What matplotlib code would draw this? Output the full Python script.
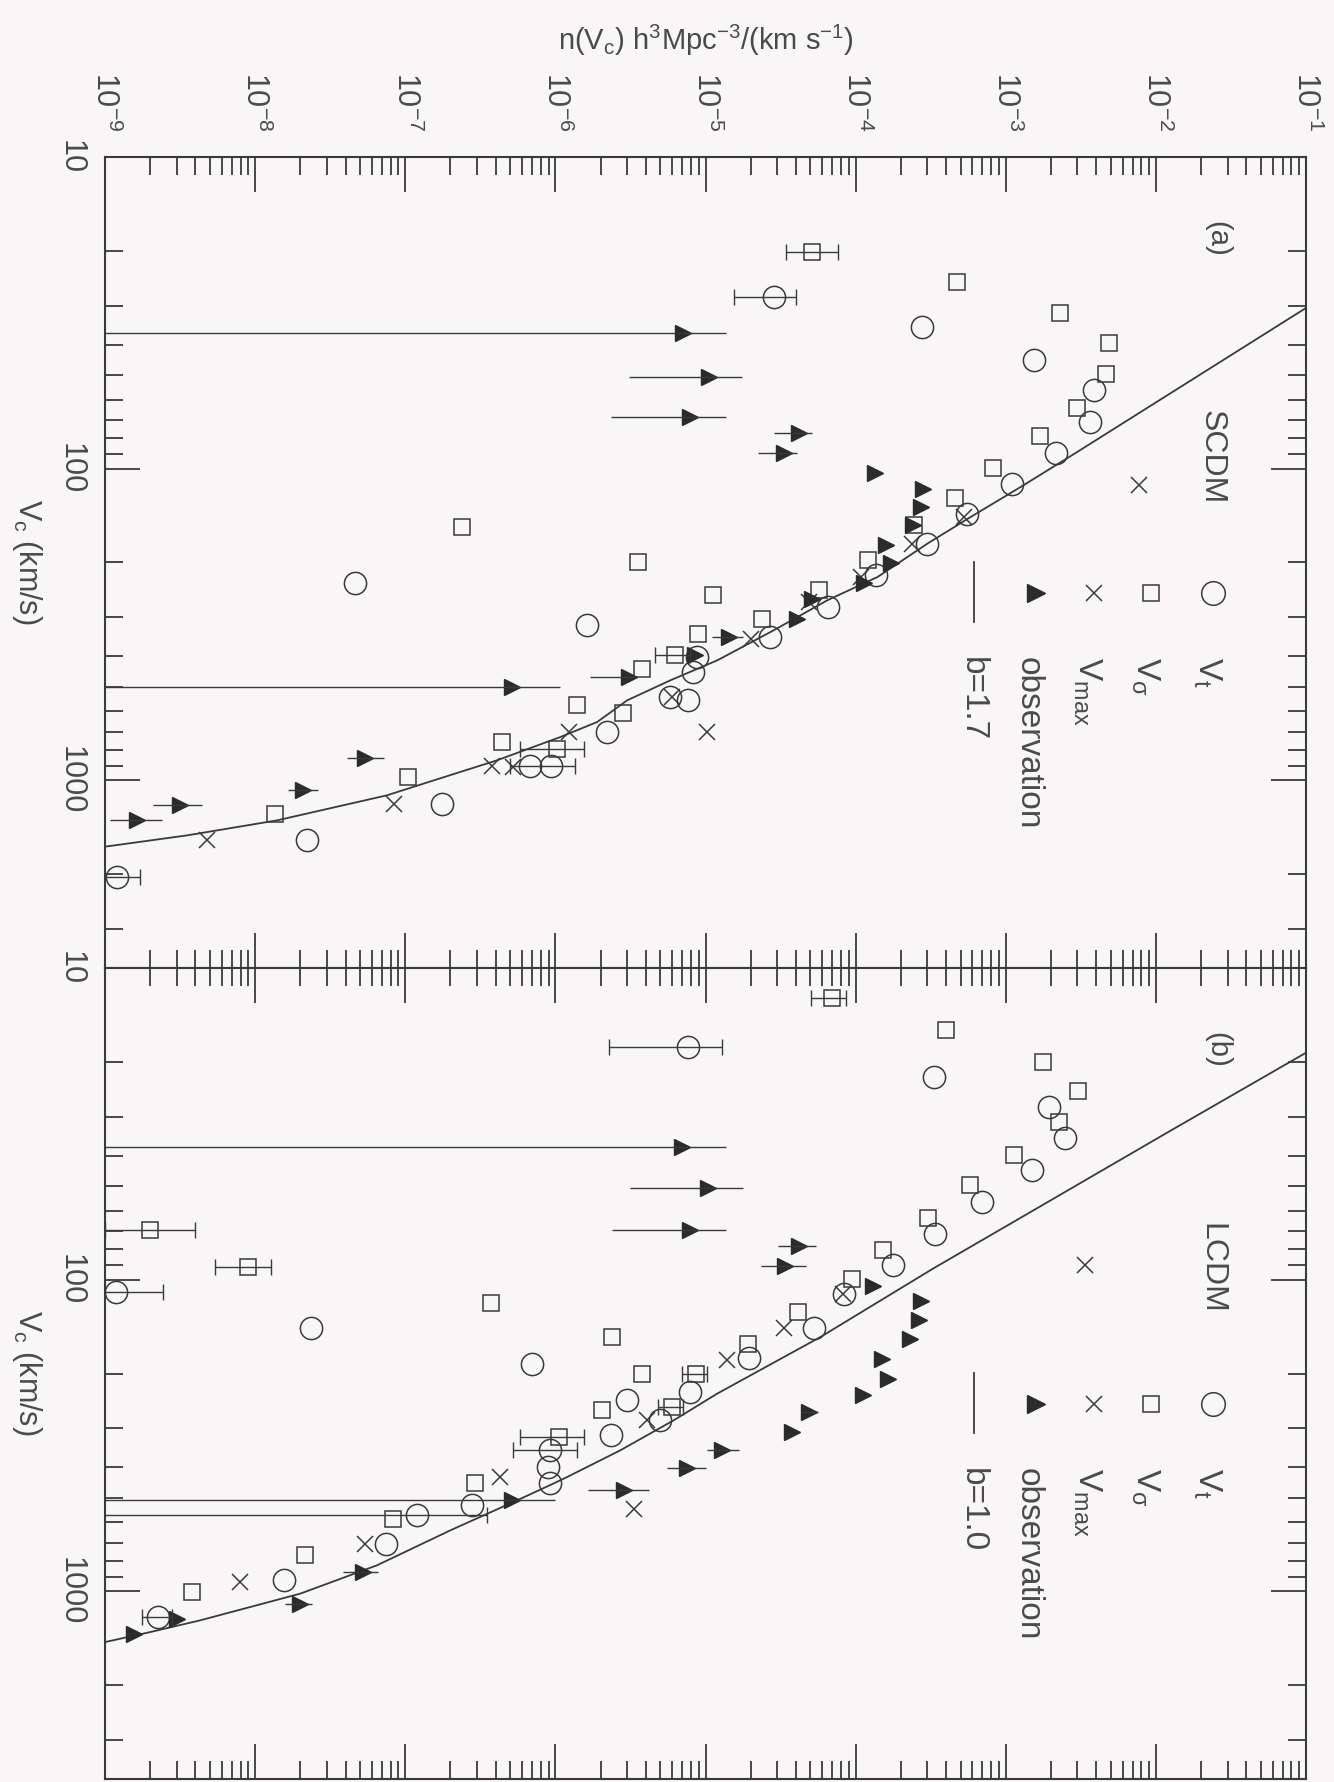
import numpy as np
import matplotlib.pyplot as plt
from matplotlib.ticker import LogLocator, NullFormatter, FuncFormatter, FixedLocator

plt.rcParams['font.family'] = ['Liberation Sans', 'DejaVu Sans']
plt.rcParams['mathtext.fontset'] = 'custom'
plt.rcParams['mathtext.rm'] = 'Liberation Sans'
plt.rcParams['mathtext.it'] = 'Liberation Sans:italic'
plt.rcParams['mathtext.bf'] = 'Liberation Sans:bold'

# ---- panel (a) SCDM : V_c in km/s, n in h^3 Mpc^-3 / (km/s) ----
a_vt_V = [28.1, 35.1, 44.8, 56.0, 70.8, 88.8, 111.6, 139.3, 173.9, 219.8, 277.8, 346.7,
          402, 450, 553.6, 540, 318, 233, 700, 901, 898, 1188, 1558, 2045]
a_vt_n = [2.88e-5, 2.75e-4, 1.54e-3, 3.86e-3, 3.63e-3, 2.16e-3, 1.10e-3, 5.5e-4, 3.0e-4,
          1.36e-4, 6.5e-5, 2.7e-5, 8.8e-6, 8.3e-6, 7.7e-6, 5.8e-6, 1.63e-6, 4.6e-8,
          2.2e-6, 6.8e-7, 9.3e-7, 1.76e-7, 2.2e-8, 1.2e-9]
a_vt_err_V = [28.1, 898, 2045]
a_vt_err_n = [2.88e-5, 9.3e-7, 1.2e-9]
a_vt_err_lo = [1.56e-5, 5.0e-7, 8e-10]
a_vt_err_hi = [3.98e-5, 1.36e-6, 1.71e-9]

a_vs_V = [20.2, 25.1, 31.7, 39.5, 49.7, 63.7, 78.8, 99.5, 123.9, 151.8, 196.7, 245.5,
          302.7, 338, 397, 437.8, 574.4, 199.2, 254.7, 153.7, 753.8, 975.9, 1279, 795.4, 609.5]
a_vs_n = [5.09e-5, 4.71e-4, 2.29e-3, 4.86e-3, 4.62e-3, 2.96e-3, 1.68e-3, 8.19e-4, 4.57e-4,
          2.44e-4, 1.20e-4, 5.66e-5, 2.39e-5, 8.98e-6, 6.31e-6, 3.79e-6, 1.40e-6, 3.57e-6,
          1.13e-5, 2.40e-7, 4.42e-7, 1.05e-7, 1.36e-8, 1.02e-6, 2.84e-6]
a_vs_err_V = [20.2, 397, 795.4]
a_vs_err_n = [5.09e-5, 6.31e-6, 1.02e-6]
a_vs_err_lo = [3.44e-5, 4.64e-6, 5.85e-7]
a_vs_err_hi = [7.59e-5, 7.94e-6, 1.54e-6]

a_vm_V = [113, 142.8, 173.9, 222.6, 267.7, 350.9, 540, 700, 700, 901, 903, 1188, 1558]
a_vm_n = [7.7e-3, 5.25e-4, 2.39e-4, 1.08e-4, 4.86e-5, 2.0e-5, 6.0e-6, 1.23e-6, 1.03e-5,
          3.79e-7, 5.25e-7, 8.4e-8, 4.8e-9]

a_obs_V = [36.7, 50.7, 68.2, 77.1, 89.3, 103, 115.8, 133.1, 151.8, 175.4, 201.1, 232.3,
           262.4, 304.2, 346.7, 397, 466, 501.8, 845.6, 1071, 1197, 1344]
a_obs_n = [7.13e-6, 1.055e-5, 7.94e-6, 4.20e-5, 3.31e-5, 1.34e-4, 2.80e-4, 2.71e-4, 2.40e-4,
           1.585e-4, 1.71e-4, 1.13e-4, 5.09e-5, 4.04e-5, 1.435e-5, 8.45e-6, 3.07e-6, 5.14e-7,
           5.41e-8, 2.10e-8, 3.16e-9, 1.63e-9]
a_obs_err_V = [36.7, 50.7, 68.2, 77.1, 89.3, 346.7, 466, 501.8, 845.6, 1071, 1197, 1344]
a_obs_err_n = [7.13e-6, 1.055e-5, 7.94e-6, 4.20e-5, 3.31e-5, 1.435e-5, 3.07e-6, 5.14e-7,
               5.41e-8, 2.10e-8, 3.16e-9, 1.63e-9]
a_obs_err_lo = [1e-12, 3.11e-6, 2.33e-6, 2.88e-5, 2.24e-5, 1.11e-5, 1.71e-6, 1e-12,
                4.09e-8, 1.66e-8, 2.09e-9, 1.08e-9]
a_obs_err_hi = [1.36e-5, 1.74e-5, 1.36e-5, 5.09e-5, 4.1e-5, 1.79e-5, 3.52e-6, 1.08e-6,
                7.17e-8, 2.63e-8, 4.42e-9, 2.39e-9]

a_fit_V = [30.5, 89.8, 114.4, 142.8, 173.9, 222.6, 264.4, 329.9, 411.9, 477.5, 553.6,
           649.7, 726, 862.6, 1000, 1117, 1344, 1502, 1629]
a_fit_n = [1.0e-1, 2.84e-3, 1.26e-3, 5.85e-4, 3.01e-4, 1.40e-4, 6.48e-5, 2.85e-5, 1.20e-5,
           5.84e-6, 3.01e-6, 1.90e-6, 1.08e-6, 4.08e-7, 1.55e-7, 7.55e-8, 1.40e-8, 3.51e-9, 1.03e-9]

# ---- panel (b) LCDM ----
b_vt_V = [17.9, 22.3, 27.9, 35.2, 44.5, 56.3, 71.1, 89.8, 111.4, 143.4, 178, 229.2, 282.5,
          243.7, 315.6, 185.8, 352.7, 400, 450, 529.6, 570, 706.6, 921.9, 1209, 109.4, 143.4]
b_vt_n = [7.70e-6, 3.31e-4, 1.93e-3, 2.47e-3, 1.49e-3, 6.92e-4, 3.39e-4, 1.78e-4, 8.34e-5,
          5.25e-5, 1.95e-5, 7.94e-6, 5.01e-6, 3.01e-6, 2.33e-6, 7.0e-7, 9.26e-7, 8.98e-7,
          9.26e-7, 2.79e-7, 1.20e-7, 7.47e-8, 1.55e-8, 2.26e-9, 1.19e-9, 2.36e-8]
b_vt_err_V = [17.9, 352.7, 570, 1209, 109.4]
b_vt_err_n = [7.70e-6, 9.26e-7, 1.20e-7, 2.26e-9, 1.19e-9]
b_vt_err_lo = [2.29e-6, 5.25e-7, 1e-12, 1.76e-9, 1e-12]
b_vt_err_hi = [1.28e-5, 1.40e-6, 3.5e-7, 2.79e-9, 2.44e-9]

b_vs_V = [12.5, 15.8, 20.0, 24.9, 31.1, 39.8, 49.7, 63.2, 80.4, 99.6, 127.2, 160.3, 200,
          256, 200, 262.4, 152.9, 118.5, 319.7, 449, 584.4, 766, 1005, 69.4, 91.0]
b_vs_n = [6.92e-5, 3.98e-4, 1.76e-3, 3.01e-3, 2.26e-3, 1.14e-3, 5.75e-4, 3.05e-4, 1.525e-4,
          9.4e-5, 4.14e-5, 1.92e-5, 8.58e-6, 6.0e-6, 3.79e-6, 2.05e-6, 2.37e-6, 3.74e-7,
          1.05e-6, 2.93e-7, 8.28e-8, 2.15e-8, 3.79e-9, 2.0e-9, 8.98e-9]
b_vs_err_V = [12.5, 200, 256, 319.7, 69.4, 91.0]
b_vs_err_n = [6.92e-5, 8.58e-6, 6.0e-6, 1.05e-6, 2.0e-9, 8.98e-9]
b_vs_err_lo = [5.01e-5, 7.0e-6, 4.86e-6, 5.85e-7, 1.0e-9, 5.38e-9]
b_vs_err_hi = [8.58e-5, 1.03e-5, 7.13e-6, 1.54e-6, 3.95e-9, 1.27e-8]

b_vm_V = [89.8, 111.4, 143.4, 181.3, 282.5, 429.5, 706.6, 933, 542.7]
b_vm_n = [3.36e-3, 8.3e-5, 3.33e-5, 1.40e-5, 4.09e-6, 4.30e-7, 5.41e-8, 7.94e-9, 3.35e-6]

b_obs_V = [37.5, 50.7, 69.2, 78.0, 90.4, 105.1, 117.1, 135.2, 154.5, 180.3, 207.6, 234.3,
           265.7, 308, 350.9, 400.8, 474, 510.5, 867, 1095, 1224, 1367]
b_obs_n = [6.98e-6, 1.047e-5, 7.94e-6, 4.20e-5, 3.41e-5, 1.30e-4, 2.71e-4, 2.64e-4, 2.30e-4,
           1.49e-4, 1.65e-4, 1.12e-4, 4.89e-5, 3.79e-5, 1.29e-5, 7.55e-6, 2.86e-6, 5.14e-7,
           5.27e-8, 2.0e-8, 3.0e-9, 1.55e-9]
b_obs_err_V = [37.5, 50.7, 69.2, 78.0, 90.4, 265.7, 350.9, 400.8, 474, 510.5, 867, 1095]
b_obs_err_n = [6.98e-6, 1.047e-5, 7.94e-6, 4.20e-5, 3.41e-5, 4.89e-5, 1.29e-5, 7.55e-6,
               2.86e-6, 5.14e-7, 5.27e-8, 2.0e-8]
b_obs_err_lo = [1e-12, 3.16e-6, 2.38e-6, 3.04e-5, 2.36e-5, 4.3e-5, 1.03e-5, 5.56e-6,
                1.66e-6, 1e-12, 3.86e-8, 1.58e-8]
b_obs_err_hi = [1.38e-5, 1.77e-5, 1.36e-5, 5.41e-5, 4.69e-5, 5.6e-5, 1.66e-5, 1.0e-5,
                4.23e-6, 1.0e-6, 6.61e-8, 2.39e-8]

b_fit_V = [18.7, 33.9, 59.8, 91.9, 152.6, 231.9, 282.5, 352.7, 429.5, 451, 510.5, 637,
           825, 1017, 1239, 1351, 1466]
b_fit_n = [1.0e-1, 1.17e-2, 1.54e-3, 3.31e-4, 5.85e-5, 1.20e-5, 6.15e-6, 2.71e-6, 1.20e-6,
           9.7e-7, 5.56e-7, 2.0e-7, 6.48e-8, 2.0e-8, 4.3e-9, 2.0e-9, 9.3e-10]

n_ticks = [1e-9, 1e-8, 1e-7, 1e-6, 1e-5, 1e-4, 1e-3, 1e-2, 1e-1]
v_ticks = [10, 100, 1000]
v_ticklabels = ['10', '100', '1000']

ink = '#3a3a3a'
paper = '#f8f6f6'
txt = '#4a4a4a'

fig = plt.figure(figsize=(13.34, 17.82), dpi=100, facecolor=paper)
L, W, H = 105 / 1334, 1201 / 1334, 811 / 1782
ax_a = fig.add_axes([L, 1 - 968 / 1782, W, H])
ax_b = fig.add_axes([L, 1 - 1779 / 1782, W, H])


def xerr(n, lo, hi):
    n, lo, hi = np.array(n), np.array(lo), np.array(hi)
    return [n - lo, hi - n]


def panel(ax, vt, vs, vm, obs, fit, errs, letter, model, bval, toplabels):
    ax.set_facecolor(paper)
    ax.set_xscale('log')
    ax.set_yscale('log')
    ax.set_xlim(1e-9, 1e-1)
    ax.set_ylim(4000, 10)
    ax.xaxis.set_major_locator(FixedLocator(n_ticks))
    ax.xaxis.set_minor_locator(LogLocator(base=10, subs=np.arange(2, 10), numticks=20))
    ax.xaxis.set_major_formatter(FuncFormatter(
        lambda v, p: r'$\mathregular{10^{%d}}$' % int(round(np.log10(v)))))
    ax.xaxis.set_minor_formatter(NullFormatter())
    ax.yaxis.set_minor_locator(LogLocator(base=10, subs=np.arange(2, 10), numticks=20))
    ax.yaxis.set_minor_formatter(NullFormatter())
    ax.set_yticks(v_ticks)
    ax.set_yticklabels(v_ticklabels, va='center')
    ax.tick_params(which='both', direction='in', top=True, bottom=True, left=True,
                   right=True, color=ink, width=1.3)
    ax.tick_params(which='major', length=25)
    ax.tick_params(which='minor', length=13)
    ax.tick_params(axis='x', labelbottom=False, labeltop=toplabels, labelrotation=-90,
                   pad=18, labelsize=22, labelcolor=txt)
    ax.tick_params(axis='y', labelrotation=-90, pad=14, labelsize=22, labelcolor=txt)
    for s in ax.spines.values():
        s.set_color(ink)
        s.set_linewidth(1.5)

    ax.plot(fit[1], fit[0], color=ink, lw=1.3)
    ax.plot(vt[1], vt[0], 'o', ms=16, mfc='none', mec=ink, mew=1.1)
    ax.plot(vs[1], vs[0], 's', ms=11, mfc='none', mec=ink, mew=1.1)
    ax.plot(vm[1], vm[0], 'x', ms=11, mew=1.1, color=ink)
    ax.plot(obs[1], obs[0], '>', ms=12, color='#2b2b2b')
    for (eV, en, elo, ehi), cap in zip(errs, [6, 6, 0]):
        ax.errorbar(en, eV, xerr=xerr(en, elo, ehi), fmt='none', ecolor=ink,
                    elinewidth=1.0, capsize=cap, capthick=1.0)

    kw = dict(transform=ax.transAxes, rotation=-90, color=txt)
    ax.text(0.926, 0.899, letter, ha='center', va='center', fontsize=21, **kw)
    ax.text(0.921, 0.630, model, ha='center', va='center', fontsize=23, **kw)

    # legend (drawn rotated, like the rest of the page)
    sym_y = 0.4624
    ax.plot([0.9226], [sym_y], 'o', ms=17, mfc='none', mec=ink, mew=1.1,
            transform=ax.transAxes, clip_on=False)
    ax.plot([0.871], [sym_y], 's', ms=12, mfc='none', mec=ink, mew=1.1,
            transform=ax.transAxes, clip_on=False)
    ax.plot([0.8235], [sym_y], 'x', ms=12, mew=1.1, color=ink,
            transform=ax.transAxes, clip_on=False)
    ax.plot([0.775], [sym_y], '>', ms=13, color='#2b2b2b',
            transform=ax.transAxes, clip_on=False)
    ax.plot([0.7236, 0.7236], [0.5006, 0.4267], color=ink, lw=1.3,
            transform=ax.transAxes)
    labels = [r'$\mathregular{V_t}$', r'$\mathregular{V_\sigma}$',
              r'$\mathregular{V_{max}}$', 'observation', 'b=' + bval]
    for x, s in zip([0.918, 0.866, 0.818, 0.7685, 0.722], labels):
        ax.text(x, 0.3835, s, ha='center', va='top', fontsize=24, **kw)


panel(ax_a, (a_vt_V, a_vt_n), (a_vs_V, a_vs_n), (a_vm_V, a_vm_n), (a_obs_V, a_obs_n),
      (a_fit_V, a_fit_n),
      [(a_vt_err_V, a_vt_err_n, a_vt_err_lo, a_vt_err_hi),
       (a_vs_err_V, a_vs_err_n, a_vs_err_lo, a_vs_err_hi),
       (a_obs_err_V, a_obs_err_n, a_obs_err_lo, a_obs_err_hi)],
      '(a)', 'SCDM', '1.7', True)
panel(ax_b, (b_vt_V, b_vt_n), (b_vs_V, b_vs_n), (b_vm_V, b_vm_n), (b_obs_V, b_obs_n),
      (b_fit_V, b_fit_n),
      [(b_vt_err_V, b_vt_err_n, b_vt_err_lo, b_vt_err_hi),
       (b_vs_err_V, b_vs_err_n, b_vs_err_lo, b_vs_err_hi),
       (b_obs_err_V, b_obs_err_n, b_obs_err_lo, b_obs_err_hi)],
      '(b)', 'LCDM', '1.0', False)

fig.text(706 / 1334, 1 - 40 / 1782,
         r'n($\mathregular{V_c}$) h$^\mathregular{3}$Mpc$^\mathregular{-3}$/(km s$^\mathregular{-1}$)',
         ha='center', va='center', fontsize=21, color=txt)
for yc in [562, 1373]:
    fig.text(27 / 1334, 1 - yc / 1782, r'$\mathregular{V_c}$ (km/s)', rotation=-90,
             ha='center', va='center', fontsize=22, color=txt)

fig.savefig('out.png', dpi=100, facecolor=paper)
